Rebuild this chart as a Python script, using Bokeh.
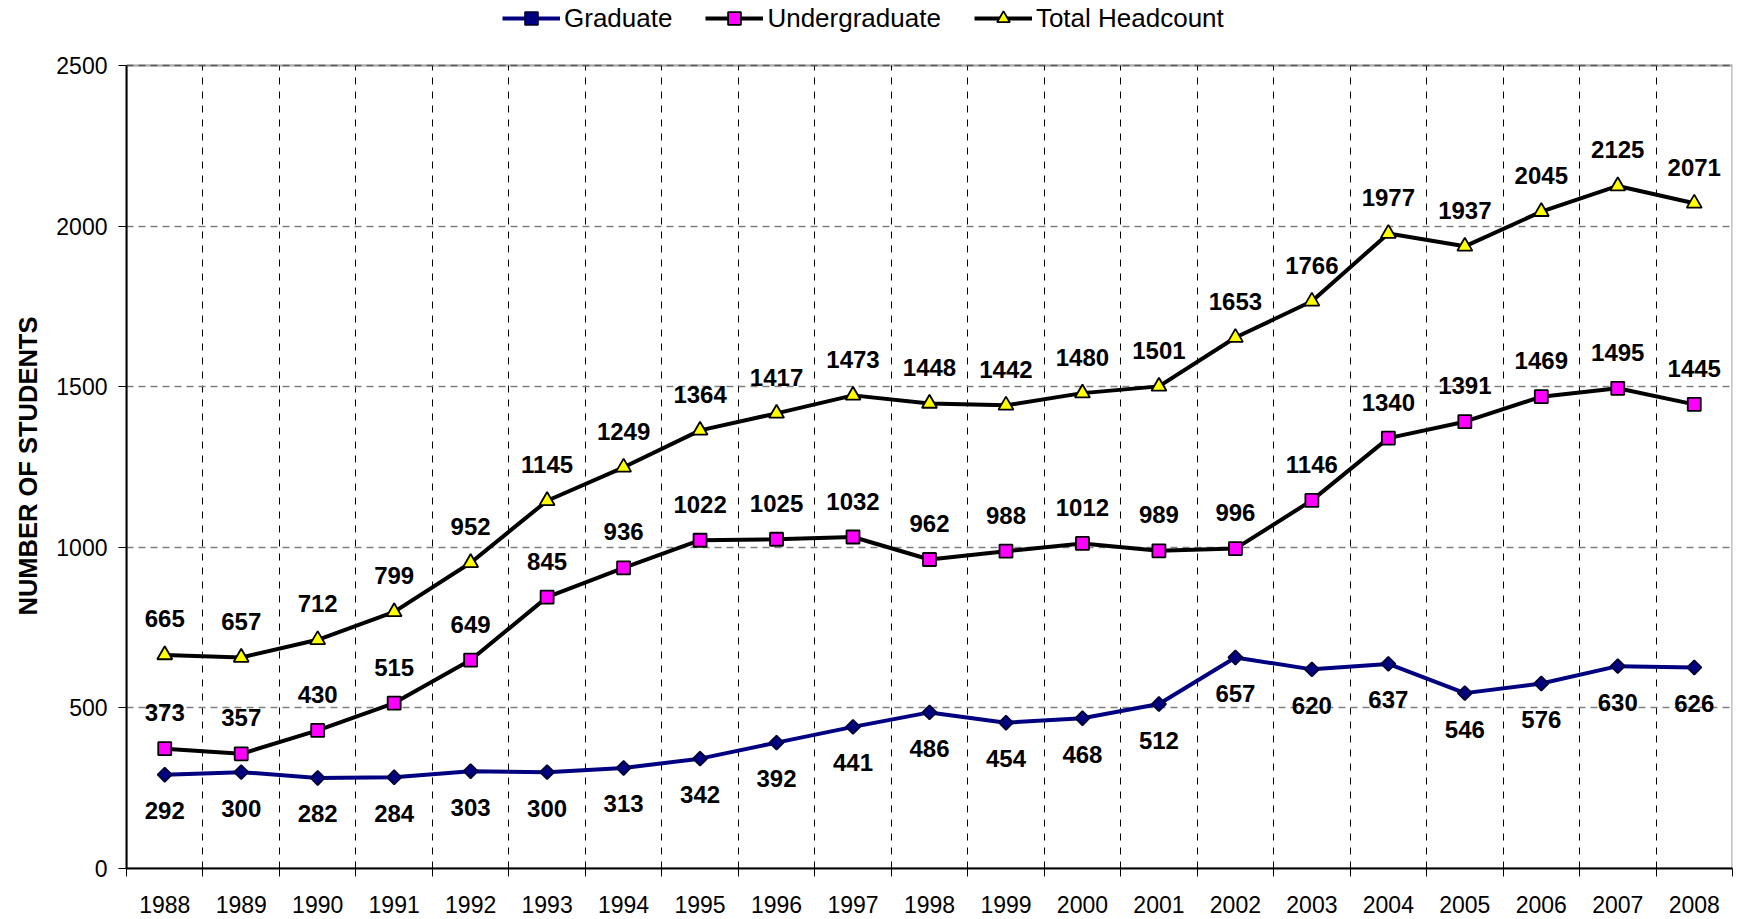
from bokeh.plotting import figure
from bokeh.models import (ColumnDataSource, FixedTicker, LabelSet, Legend, LegendItem,
                          BoxAnnotation, Title)
from bokeh.core.properties import value
from bokeh.embed import file_html
from bokeh.resources import INLINE
import math

years = [1988, 1989, 1990, 1991, 1992, 1993, 1994, 1995, 1996, 1997, 1998,
         1999, 2000, 2001, 2002, 2003, 2004, 2005, 2006, 2007, 2008]
graduate = [292, 300, 282, 284, 303, 300, 313, 342, 392, 441, 486,
            454, 468, 512, 657, 620, 637, 546, 576, 630, 626]
undergraduate = [373, 357, 430, 515, 649, 845, 936, 1022, 1025, 1032, 962,
                 988, 1012, 989, 996, 1146, 1340, 1391, 1469, 1495, 1445]
total = [665, 657, 712, 799, 952, 1145, 1249, 1364, 1417, 1473, 1448,
         1442, 1480, 1501, 1653, 1766, 1977, 1937, 2045, 2125, 2071]
y_ticks = [0, 500, 1000, 1500, 2000, 2500]
series_names = ["Graduate", "Undergraduate", "Total Headcount"]

FONT = "Liberation Sans"
xs = list(range(1, len(years) + 1))
Y_MAX = y_ticks[-1]
FRAME_H = 868            # frame spans the full top area so the legend can sit inside it
PLOT_H = 803             # pixel height of the 0..2500 box
y_top = Y_MAX * FRAME_H / PLOT_H

styles = [
    dict(line="#000080", marker="square", size=10, fill="#000080", edge="#000033", angle=math.pi / 4),
    dict(line="black", marker="square", size=13, fill="#FF00FF", edge="black", angle=0.0),
    dict(line="black", marker="triangle", size=15, fill="#FFFF00", edge="black", angle=0.0),
]

p = figure(width=1738, height=919, output_backend="svg", toolbar_location=None,
           x_range=(0.5, len(years) + 0.5), y_range=(0, y_top),
           min_border_left=126, min_border_right=6, min_border_top=0,
           min_border_bottom=51)
p.background_fill_color = "white"
p.border_fill_color = "white"
p.outline_line_color = None

xticker = FixedTicker(ticks=xs, minor_ticks=[i + 0.5 for i in range(len(years) + 1)])
p.xaxis.ticker = xticker
p.xaxis.major_label_overrides = {x: str(y) for x, y in zip(xs, years)}
p.xaxis.major_tick_out = 0
p.xaxis.major_tick_in = 0
p.xaxis.minor_tick_out = 8
p.xaxis.minor_tick_in = 0
p.xaxis.minor_tick_line_color = "black"
p.xaxis.minor_tick_line_width = 1
p.xaxis.major_label_standoff = 19
p.xaxis.axis_line_width = 2
p.xaxis.major_label_text_font = FONT
p.xaxis.major_label_text_font_size = "23px"
p.xaxis.major_label_text_color = "black"

p.yaxis.ticker = FixedTicker(ticks=y_ticks)
p.yaxis.bounds = (0, Y_MAX)
p.yaxis.minor_tick_line_color = None
p.yaxis.major_tick_out = 8
p.yaxis.major_tick_in = 0
p.yaxis.major_tick_line_width = 1
p.yaxis.major_label_standoff = 11
p.yaxis.axis_line_width = 2
p.yaxis.major_label_text_font = FONT
p.yaxis.major_label_text_font_size = "23px"
p.yaxis.major_label_text_color = "black"

p.add_layout(Title(text="NUMBER OF STUDENTS", align="left", offset=253,
                   text_font=FONT, text_font_size="25.5px", text_font_style="bold",
                   text_color="black", standoff=23), "left")

p.xgrid.ticker = xticker
p.xgrid.grid_line_color = None
p.xgrid.minor_grid_line_color = "black"
p.xgrid.minor_grid_line_dash = "7 7"
p.xgrid.minor_grid_line_width = 1
p.ygrid.grid_line_color = "#808080"
p.ygrid.grid_line_dash = "7 5"
p.ygrid.grid_line_width = 1.3

bounded = False
try:
    p.xgrid.cross_bounds = (0, Y_MAX)
    bounded = True
except Exception:
    bounded = False
if not bounded:
    p.add_layout(BoxAnnotation(bottom=Y_MAX, fill_color="white", fill_alpha=1,
                               line_color=None, level="underlay"))

src = ColumnDataSource(dict(
    x=xs, g=graduate, u=undergraduate, t=total,
    gl=[str(v) for v in graduate], ul=[str(v) for v in undergraduate],
    tl=[str(v) for v in total]))

items = []
for name, ycol, st in zip(series_names, ["g", "u", "t"], styles):
    r1 = p.line("x", ycol, source=src, line_color=st["line"], line_width=4)
    r2 = p.scatter("x", ycol, source=src, marker=st["marker"], angle=st["angle"],
                   size=st["size"], fill_color=st["fill"], line_color=st["edge"],
                   line_width=1.8)
    items.append(LegendItem(label=name, renderers=[r1, r2]))

for col, ycol, off in [("gl", "g", -36), ("ul", "u", 36), ("tl", "t", 36)]:
    p.add_layout(LabelSet(x="x", y=ycol, text=col, source=src, y_offset=off,
                          text_align="center", text_baseline="middle",
                          text_font=value(FONT), text_font_style="bold",
                          text_font_size="24px", text_color="black"))

# plot box
p.add_layout(BoxAnnotation(left=0.5, right=len(years) + 0.5, bottom=0, top=Y_MAX,
                           fill_alpha=0, line_color="black", line_width=2.5))

legend = Legend(items=items, location=(376, 834), orientation="horizontal",
                padding=0, margin=0, spacing=33, glyph_width=58, glyph_height=32,
                label_height=32, label_standoff=4, label_text_font=FONT,
                label_text_font_size="26px", label_text_color="black",
                border_line_color=None, background_fill_alpha=0)
p.add_layout(legend, "center")

open("out.html", "w").write(file_html(p, INLINE))
